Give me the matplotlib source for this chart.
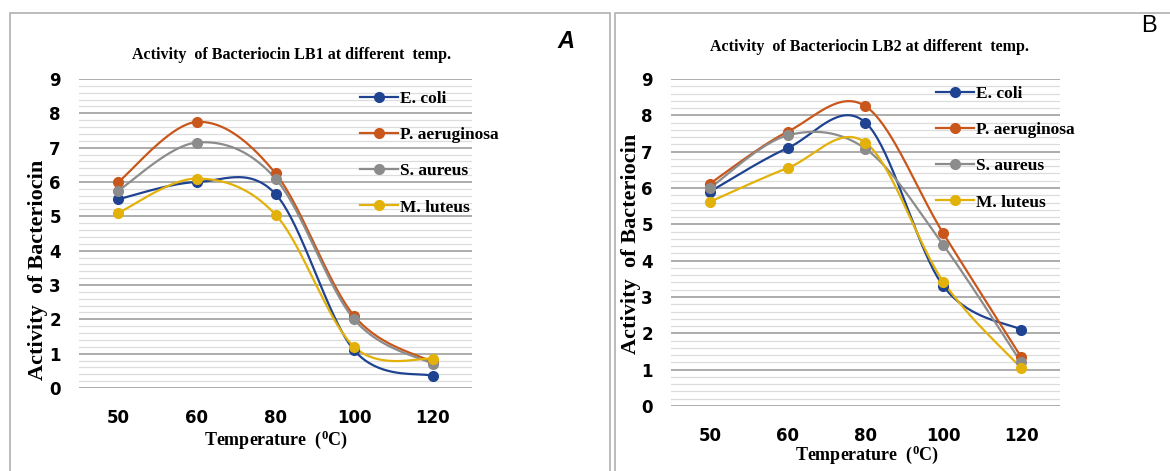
import numpy as np
import matplotlib
matplotlib.use("Agg")
import matplotlib.pyplot as plt
from matplotlib.patches import Rectangle

# ---- data ----
temps = ["50", "60", "80", "100", "120"]
series_names = ["E. coli", "P. aeruginosa", "S. aureus", "M. luteus"]

lb1_ecoli = [5.5, 6.0, 5.65, 1.1, 0.35]
lb1_paer = [6.0, 7.75, 6.25, 2.1, 0.75]
lb1_saur = [5.75, 7.15, 6.1, 2.0, 0.7]
lb1_mlut = [5.1, 6.1, 5.05, 1.2, 0.85]

lb2_ecoli = [5.9, 7.1, 7.8, 3.3, 2.1]
lb2_paer = [6.12, 7.55, 8.25, 4.75, 1.35]
lb2_saur = [6.0, 7.45, 7.08, 4.43, 1.2]
lb2_mlut = [5.62, 6.55, 7.25, 3.42, 1.05]

colors = ["#1f4391", "#c9571b", "#8c8c8c", "#e2b10a"]

serif = ["Liberation Serif", "DejaVu Serif"]
plt.rcParams["mathtext.fontset"] = "custom"
plt.rcParams["mathtext.rm"] = "Liberation Serif:bold"
plt.rcParams["mathtext.it"] = "Liberation Serif:bold"


def smooth(y, n=40):
    # excel-like smoothed line (catmull-rom through the points)
    x = np.arange(len(y), dtype=float)
    y = np.asarray(y, dtype=float)
    px = np.concatenate([[x[0]], x, [x[-1]]])
    py = np.concatenate([[y[0]], y, [y[-1]]])
    xs, ys = [], []
    t = np.linspace(0, 1, n)
    for i in range(1, len(px) - 2):
        for p, out in ((px, xs), (py, ys)):
            p0, p1, p2, p3 = p[i - 1], p[i], p[i + 1], p[i + 2]
            c1 = p1 + (p2 - p0) / 6
            c2 = p2 - (p3 - p1) / 6
            out.extend((1 - t) ** 3 * p1 + 3 * (1 - t) ** 2 * t * c1
                       + 3 * (1 - t) * t ** 2 * c2 + t ** 3 * p2)
    return np.array(xs), np.array(ys)


W, H = 1170, 471
fig = plt.figure(figsize=(W / 100, H / 100), dpi=100)


def px_axes(x0, y0, x1, y1):
    return fig.add_axes([x0 / W, 1 - y1 / H, (x1 - x0) / W, (y1 - y0) / H])


# panel frames
fig.patches.append(Rectangle((10 / W, -0.1), 600 / W, 1.1 - 12.5 / H,
                             transform=fig.transFigure, fill=False,
                             edgecolor="#b0b0b0", lw=1.2))
fig.patches.append(Rectangle((615 / W, -0.1), 600 / W, 1.1 - 12.5 / H,
                             transform=fig.transFigure, fill=False,
                             edgecolor="#b0b0b0", lw=1.2))


def panel(ax, data, title, title_xy, ylab_xy, xlab_xy, leg_xy, letter, letter_xy):
    for vals, name, c in zip(data, series_names, colors):
        sx, sy = smooth(vals)
        ax.plot(sx, sy, color=c, lw=1.6, zorder=3)
        ax.plot(range(len(vals)), vals, "o", color=c, ms=7, zorder=4)
        ax.plot([], [], "-o", color=c, lw=1.6, ms=7, label=name)
    ax.set_xlim(-0.5, len(temps) - 0.5)
    ax.set_ylim(0, 9)
    ax.set_yticks(range(10))
    ax.set_yticks(np.arange(0, 9.01, 0.2), minor=True)
    ax.set_xticks(range(len(temps)))
    ax.set_xticklabels(temps)
    ax.grid(axis="y", which="major", color="#a6a6a6", lw=1.3)
    ax.grid(axis="y", which="minor", color="#dcdcdc", lw=0.9)
    ax.set_axisbelow(True)
    for s in ax.spines.values():
        s.set_visible(False)
    ax.tick_params(axis="both", which="both", length=0)
    ax.tick_params(axis="x", pad=15)
    ax.tick_params(axis="y", pad=13)
    for lab in ax.get_xticklabels() + ax.get_yticklabels():
        lab.set_fontfamily(["DejaVu Sans"])
        lab.set_fontweight("bold")
        lab.set_fontsize(12)
    fig.text(title_xy[0] / W, 1 - title_xy[1] / H, title, ha="center", va="center",
             family=serif, weight="bold", fontsize=11.5)
    fig.text(ylab_xy[0] / W, 1 - ylab_xy[1] / H, "Activity  of Bacteriocin",
             ha="center", va="center", rotation=90, family=serif,
             weight="bold", fontsize=16)
    fig.text(xlab_xy[0] / W, 1 - xlab_xy[1] / H, "Temperature  ($^{0}$C)",
             ha="center", va="center", family=serif, weight="bold", fontsize=13)
    fig.text(letter_xy[0] / W, 1 - letter_xy[1] / H, letter, ha="center",
             va="center", family=["Liberation Sans", "DejaVu Sans"],
             style="italic" if letter == "A" else "normal",
             weight="bold" if letter == "A" else "normal", fontsize=17)
    leg = ax.legend(loc="upper left", bbox_to_anchor=(leg_xy[0] / W, 1 - leg_xy[1] / H),
                    bbox_transform=fig.transFigure, frameon=False,
                    handlelength=2.2, handletextpad=0.1, labelspacing=1.15,
                    borderaxespad=0, borderpad=0,
                    prop={"family": serif, "weight": "bold", "size": 12.5})
    return leg


ax1 = px_axes(79, 79, 472, 388)
panel(ax1, [lb1_ecoli, lb1_paer, lb1_saur, lb1_mlut],
      "Activity  of Bacteriocin LB1 at different  temp.",
      (292, 55), (38, 270), (276, 440), (360, 91), "A", (566, 42))

ax2 = px_axes(671, 79, 1060, 406)
panel(ax2, [lb2_ecoli, lb2_paer, lb2_saur, lb2_mlut],
      "Activity  of Bacteriocin LB2 at different  temp.",
      (869, 47), (631, 244), (867, 455), (936, 86), "B", (1149, 26))

fig.savefig("out.png", dpi=100)
